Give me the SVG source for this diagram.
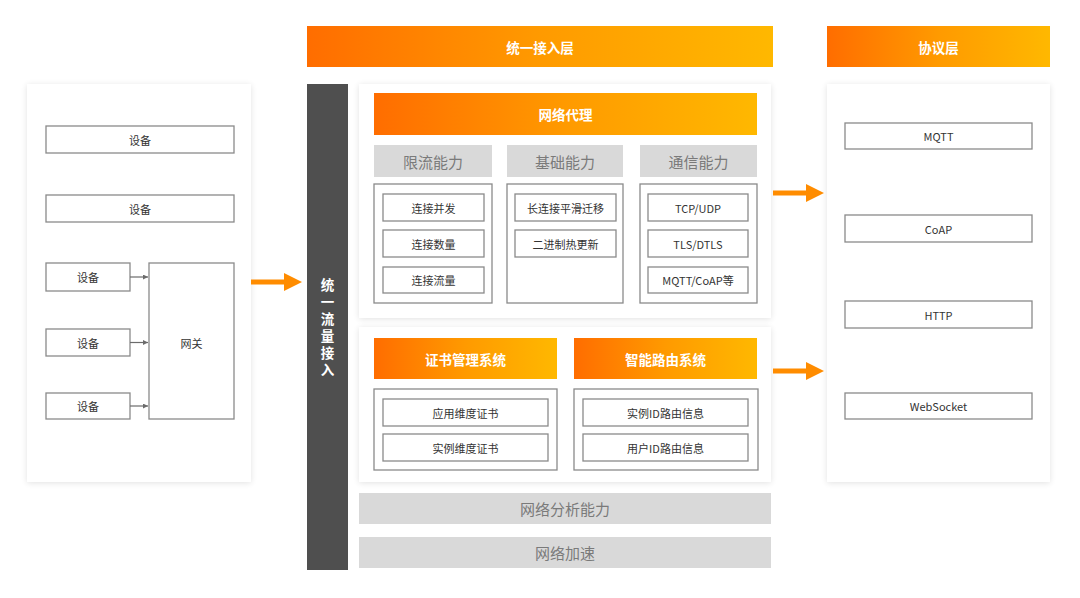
<svg xmlns="http://www.w3.org/2000/svg" width="1080" height="598" viewBox="0 0 1080 598">
<defs>
<linearGradient id="og" x1="0" y1="0" x2="1" y2="0">
<stop offset="0" stop-color="#ff6d00"/>
<stop offset="0.5" stop-color="#ff9a00"/>
<stop offset="1" stop-color="#ffb800"/>
</linearGradient>
<filter id="sh" x="-10%" y="-10%" width="120%" height="120%">
<feGaussianBlur in="SourceAlpha" stdDeviation="3"/>
<feOffset dx="0" dy="1"/>
<feComponentTransfer><feFuncA type="linear" slope="0.12"/></feComponentTransfer>
<feMerge><feMergeNode/><feMergeNode in="SourceGraphic"/></feMerge>
</filter>
<marker id="sa" viewBox="0 0 6 6" refX="6" refY="3" markerWidth="5" markerHeight="5" orient="auto" markerUnits="userSpaceOnUse">
<path d="M0,0 L6,3 L0,6 z" fill="#6b6b6b"/>
</marker>
</defs>
<style>
text{font-family:"Noto Sans CJK SC","Noto Sans",sans-serif;text-anchor:middle;dominant-baseline:central}
.panel{fill:#fff;filter:url(#sh)}
.box{fill:#fff;stroke:#8a8a8a;stroke-width:1.3}
.t{font-size:11px;fill:#333}
.hd{font-size:13.5px;font-weight:bold;fill:#fff}
.gh{fill:#d9d9d9}
.gt{font-size:15px;fill:#7a7a7a}
.big{fill:#ff8c00}
.vt{writing-mode:vertical-rl;letter-spacing:3.5px}
</style>
<rect width="1080" height="598" fill="#fff"/>

<g id="header-access">
<rect x="307" y="26" width="466" height="41" fill="url(#og)"/>
<text x="540" y="46.5" class="hd">统一接入层</text>
</g>
<g id="header-protocol">
<rect x="827" y="26" width="223" height="41" fill="url(#og)"/>
<text x="938.5" y="46.5" class="hd">协议层</text>
</g>

<g id="device-panel">
<rect x="27" y="84" width="224" height="398" class="panel"/>
<g id="dev1"><rect x="46" y="126" width="188" height="27" class="box"/><text x="140" y="139.5" class="t">设备</text></g>
<g id="dev2"><rect x="46" y="195" width="188" height="27" class="box"/><text x="140" y="208.5" class="t">设备</text></g>
<g id="dev3"><rect x="46" y="263" width="84" height="28" class="box"/><text x="88" y="277" class="t">设备</text></g>
<g id="dev4"><rect x="46" y="329" width="84" height="27" class="box"/><text x="88" y="342.5" class="t">设备</text></g>
<g id="dev5"><rect x="46" y="393" width="84" height="26" class="box"/><text x="88" y="406" class="t">设备</text></g>
<g id="gateway"><rect x="149" y="263" width="85" height="156" class="box"/><text x="191.5" y="343" class="t">网关</text></g>
</g>

<g id="access-bar">
<rect x="307" y="84" width="41" height="486" fill="#4f4f4f"/>
<text x="327.5" y="329" class="hd vt">统一流量接入</text>
</g>

<g id="proxy-panel">
<rect x="359" y="84" width="412" height="234" class="panel"/>
<g id="proxy-header"><rect x="374" y="93" width="383" height="42" fill="url(#og)"/><text x="565.5" y="114" class="hd">网络代理</text></g>
<g id="rate-limit">
<rect x="374" y="145" width="118" height="32" class="gh"/><text x="433" y="161" class="gt">限流能力</text>
<rect x="374" y="184" width="118" height="119" class="box"/>
<rect x="383" y="194" width="101" height="27" class="box"/><text x="433.5" y="207.5" class="t">连接并发</text>
<rect x="383" y="230" width="101" height="27" class="box"/><text x="433.5" y="243.5" class="t">连接数量</text>
<rect x="383" y="267" width="101" height="26" class="box"/><text x="433.5" y="280" class="t">连接流量</text>
</g>
<g id="basic">
<rect x="507" y="145" width="116" height="32" class="gh"/><text x="565" y="161" class="gt">基础能力</text>
<rect x="507" y="184" width="116" height="119" class="box"/>
<rect x="515" y="194" width="101" height="27" class="box"/><text x="565.5" y="207.5" class="t">长连接平滑迁移</text>
<rect x="515" y="230" width="101" height="27" class="box"/><text x="565.5" y="243.5" class="t">二进制热更新</text>
</g>
<g id="comm">
<rect x="640" y="145" width="117" height="32" class="gh"/><text x="698.5" y="161" class="gt">通信能力</text>
<rect x="640" y="184" width="117" height="119" class="box"/>
<rect x="648" y="194" width="100" height="27" class="box"/><text x="698" y="207.5" class="t">TCP/UDP</text>
<rect x="648" y="230" width="100" height="27" class="box"/><text x="698" y="243.5" class="t">TLS/DTLS</text>
<rect x="648" y="267" width="100" height="26" class="box"/><text x="698" y="280" class="t">MQTT/CoAP等</text>
</g>
</g>

<g id="system-panel">
<rect x="359" y="327" width="412" height="155" class="panel"/>
<g id="cert">
<rect x="374" y="338" width="183" height="41" fill="url(#og)"/><text x="465.5" y="358.5" class="hd">证书管理系统</text>
<rect x="374" y="389" width="183" height="81" class="box"/>
<rect x="383" y="399" width="165" height="27" class="box"/><text x="465.5" y="412.5" class="t">应用维度证书</text>
<rect x="383" y="434" width="165" height="27" class="box"/><text x="465.5" y="447.5" class="t">实例维度证书</text>
</g>
<g id="routing">
<rect x="574" y="338" width="183" height="41" fill="url(#og)"/><text x="665.5" y="358.5" class="hd">智能路由系统</text>
<rect x="574" y="389" width="184" height="81" class="box"/>
<rect x="583" y="399" width="165" height="27" class="box"/><text x="665.5" y="412.5" class="t">实例ID路由信息</text>
<rect x="583" y="434" width="165" height="27" class="box"/><text x="665.5" y="447.5" class="t">用户ID路由信息</text>
</g>
</g>

<g id="analysis"><rect x="359" y="493" width="412" height="31" class="gh"/><text x="565" y="508.5" class="gt">网络分析能力</text></g>
<g id="accel"><rect x="359" y="537" width="412" height="31" class="gh"/><text x="565" y="552.5" class="gt">网络加速</text></g>

<g id="protocol-panel">
<rect x="827" y="84" width="223" height="398" class="panel"/>
<g id="mqtt"><rect x="845" y="123" width="187" height="26" class="box"/><text x="938.5" y="136" class="t">MQTT</text></g>
<g id="coap"><rect x="845" y="215" width="187" height="27" class="box"/><text x="938.5" y="228.5" class="t">CoAP</text></g>
<g id="http"><rect x="845" y="301" width="187" height="27" class="box"/><text x="938.5" y="314.5" class="t">HTTP</text></g>
<g id="websocket"><rect x="845" y="393" width="187" height="26" class="box"/><text x="938.5" y="406" class="t">WebSocket</text></g>
</g>

<g id="connectors">
<line x1="130" y1="277" x2="148" y2="277" stroke="#6b6b6b" stroke-width="1.2" marker-end="url(#sa)"/>
<line x1="130" y1="342.5" x2="148" y2="342.5" stroke="#6b6b6b" stroke-width="1.2" marker-end="url(#sa)"/>
<line x1="130" y1="406" x2="148" y2="406" stroke="#6b6b6b" stroke-width="1.2" marker-end="url(#sa)"/>
<path d="M251,279.5 H284 V273 L302,282 L284,291 V284.5 H251 Z" class="big"/>
<path d="M773,190.5 H806 V184 L824,193 L806,202 V195.5 H773 Z" class="big"/>
<path d="M773,368.5 H806 V362 L824,371 L806,380 V373.5 H773 Z" class="big"/>
</g>
</svg>
